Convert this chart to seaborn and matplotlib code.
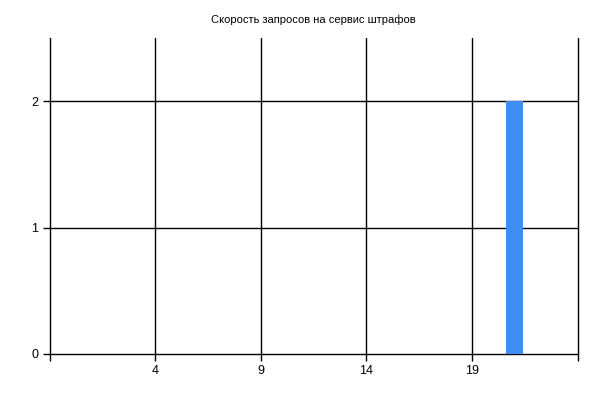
import matplotlib
matplotlib.use("Agg")
import matplotlib.pyplot as plt
import seaborn as sns
import pandas as pd

hours = list(range(0, 24))
requests = [0] * 24
requests[21] = 2
x_ticks = [4, 9, 14, 19]
y_ticks = [0, 1, 2]
title = "Скорость запросов на сервис штрафов"

sns.set_theme(style="white")
plt.rcParams['font.family'] = ['Liberation Sans', 'DejaVu Sans']

df = pd.DataFrame({"hour": hours, "requests": requests})

fig = plt.figure(figsize=(6, 4), dpi=100)
ax = fig.add_axes([0.0825, 0.115, 0.963 - 0.0825, 0.905 - 0.115])
sns.barplot(data=df, x="hour", y="requests", native_scale=True, color="#418CF0",
            saturation=1, width=0.8, linewidth=0, ax=ax, zorder=3)

ax.set_xlim(-1, 24)
ax.set_ylim(0, 2.5)
ax.set_xticks([-1] + x_ticks + [24])
ax.set_xticklabels([""] + [str(t) for t in x_ticks] + [""])
ax.set_yticks(y_ticks)
ax.set_yticklabels([str(t) for t in y_ticks])
for t in x_ticks + [24]:
    ax.axvline(t, color="black", lw=1, zorder=1, clip_on=False)
for t in [1, 2]:
    ax.axhline(t, color="black", lw=1, zorder=1, clip_on=False)

for s in ["top", "right"]:
    ax.spines[s].set_visible(False)
for s in ["left", "bottom"]:
    ax.spines[s].set_color("black")
    ax.spines[s].set_linewidth(1)
ax.tick_params(axis="both", direction="out", length=5, width=1, color="black",
               labelsize=9, labelcolor="black", bottom=True, left=True, pad=3)
ax.set_xlabel("")
ax.set_ylabel("")
ax.set_title(title, fontsize=8, color="black", pad=11)
fig.savefig("out.png", dpi=100, facecolor="white")
